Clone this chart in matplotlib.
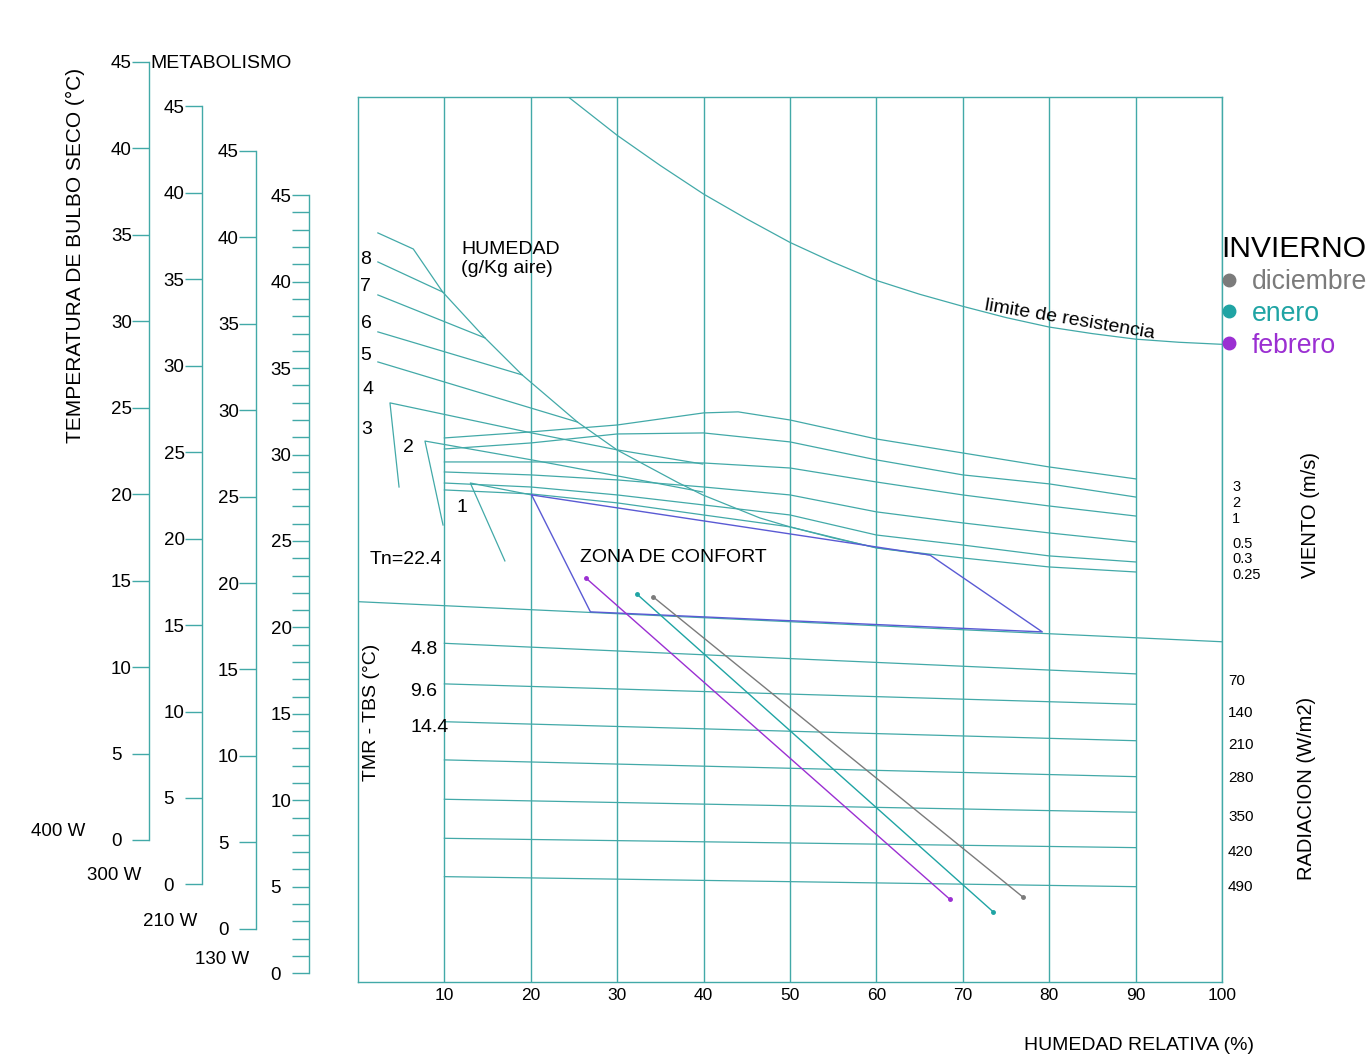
import matplotlib
matplotlib.use("Agg")
import matplotlib.pyplot as plt
from matplotlib.lines import Line2D
from matplotlib.ticker import MultipleLocator

plt.rcParams["font.family"] = ["Liberation Sans", "DejaVu Sans"]

# ---- data (x = humedad relativa %, y = temperatura °C) ----
rh_ticks = [10, 20, 30, 40, 50, 60, 70, 80, 90, 100]

limit_rh = [24.4, 30.0, 35.0, 40.0, 45.0, 50.0, 55.0, 60.0, 65.0, 70.0, 75.0, 80.0,
            85.0, 90.0, 95.0, 100.0]
limit_t = [50.7, 48.5, 46.75, 45.1, 43.66, 42.3, 41.15, 40.1, 39.3, 38.6, 37.95,
           37.4, 37.02, 36.7, 36.52, 36.4]

steep_rh = [2.3, 6.4, 9.8, 14.7, 19.0, 25.4, 30.0, 36.9, 39.9, 46.5, 50.0, 55.0, 60.1, 66.2]
steep_t = [42.85, 41.92, 39.43, 36.77, 34.63, 31.90, 30.28, 28.43, 27.68, 26.35, 25.83, 25.19, 24.61, 24.20]

h8_rh, h8_t = [2.3, 9.8], [41.17, 39.43]
h7_rh, h7_t = [2.3, 14.7], [39.26, 36.77]
h6_rh, h6_t = [2.3, 19.0], [37.12, 34.63]
h5_rh, h5_t = [2.3, 25.4], [35.38, 31.90]
h4_rh, h4_t = [4.75, 3.7, 20.1, 30.1, 39.9], [28.14, 33.01, 31.27, 30.28, 29.47]
h2_rh, h2_t = [9.84, 7.75, 20.1, 33.8, 39.9], [25.94, 30.80, 29.71, 28.43, 27.85]
h1_rh, h1_t = [17.0, 13.0, 20.1], [23.86, 28.37, 27.68]
hum_labels = ["8", "7", "6", "5", "4", "3", "2", "1"]

wind_labels = ["3", "2", "1", "0.5", "0.3", "0.25"]
wind_rh = [10, 20, 30, 40, 50, 60, 70, 80, 90]
w3_rh = [10, 20, 30, 40, 44, 50, 60, 70, 80, 90]
w3_t = [30.98, 31.33, 31.73, 32.43, 32.49, 32.02, 30.92, 30.11, 29.30, 28.61]
w2_t = [30.34, 30.69, 31.21, 31.27, 30.75, 29.71, 28.84, 28.32, 27.56]
w1_t = [29.59, 29.59, 29.59, 29.53, 29.24, 28.43, 27.68, 27.04, 26.46]
w05_t = [29.01, 28.84, 28.55, 28.14, 27.68, 26.70, 26.06, 25.48, 24.96]
w03_t = [28.37, 28.14, 27.68, 27.10, 26.52, 25.36, 24.78, 24.15, 23.80]
w025_t = [27.97, 27.74, 27.22, 26.52, 25.83, 24.61, 24.03, 23.51, 23.22]

comfort_rh = [20.1, 66.2, 79.2, 26.9, 20.1]
comfort_t = [27.68, 24.20, 19.75, 20.91, 27.68]

tn_rh, tn_t = [0, 100], [21.50, 19.18]

rad_labels = ["70", "140", "210", "280", "350", "420", "490"]
tmr_labels = ["4.8", "9.6", "14.4"]
rad_rh = [10, 90]
rad_t_left = [19.09, 16.74, 14.55, 12.34, 10.06, 7.80, 5.58]
rad_t_right = [17.32, 15.56, 13.45, 11.37, 9.31, 7.26, 5.00]

months = ["diciembre", "enero", "febrero"]
dic_rh, dic_t = [34.2, 77.0], [21.76, 4.38]
ene_rh, ene_t = [32.3, 73.5], [21.93, 3.55]
feb_rh, feb_t = [26.4, 68.5], [22.86, 4.27]

metab_labels = ["400 W", "300 W", "210 W", "130 W"]
scale_ticks = list(range(0, 46, 5))

# ---- styling ----
TEAL = "#42a9a8"
BLUE = "#5a5ad4"
C_DIC, C_ENE, C_FEB = "#7b7b7b", "#1fa4a4", "#9b2fd2"
W, H = 1370, 1054


def fx(px):
    return px / W


def fy(py):
    return 1 - py / H


fig = plt.figure(figsize=(W / 100, H / 100), dpi=100)

# main chart
ax = fig.add_axes([fx(358), fy(982), fx(1222) - fx(358), fy(97) - fy(982)])
ax.set_xlim(0, 100)
ax.set_ylim(-0.52, 50.72)
ax.set_xticks(rh_ticks)
ax.set_xticklabels([str(v) for v in rh_ticks])
ax.set_yticks([])
ax.tick_params(axis="x", length=0, pad=4, labelsize=12.5)
ax.grid(axis="x", color=TEAL, lw=1.0, zorder=0)
for sp in ax.spines.values():
    sp.set_color(TEAL)
    sp.set_linewidth(1.0)

lk = dict(color=TEAL, lw=0.9, zorder=2)
ax.plot(limit_rh, limit_t, **lk)
ax.plot(steep_rh, steep_t, **lk)
for r, t in [(h8_rh, h8_t), (h7_rh, h7_t), (h6_rh, h6_t), (h5_rh, h5_t),
             (h4_rh, h4_t), (h2_rh, h2_t), (h1_rh, h1_t)]:
    ax.plot(r, t, **lk)
ax.plot(w3_rh, w3_t, **lk)
for t in [w2_t, w1_t, w05_t, w03_t, w025_t]:
    ax.plot(wind_rh, t, **lk)
ax.plot(tn_rh, tn_t, **lk)
for tl, tr in zip(rad_t_left, rad_t_right):
    ax.plot(rad_rh, [tl, tr], **lk)

ax.plot(comfort_rh, comfort_t, color=BLUE, lw=1.0, zorder=3)

for r, t, c in [(dic_rh, dic_t, C_DIC), (ene_rh, ene_t, C_ENE), (feb_rh, feb_t, C_FEB)]:
    ax.plot(r, t, color=c, lw=1.0, marker="o", markersize=2.5, zorder=4)

# texts inside chart
fig.text(fx(461), fy(259), "HUMEDAD\n(g/Kg aire)", ha="left", va="center",
         fontsize=14, linespacing=1.2)
fig.text(fx(580), fy(558), "ZONA DE CONFORT", ha="left", va="center", fontsize=14)
fig.text(fx(370), fy(559), "Tn=22.4", ha="left", va="center", fontsize=14)
fig.text(fx(1070), fy(320), "limite de resistencia", ha="center", va="center",
         fontsize=14, rotation=-9.5)
fig.text(fx(372), fy(712), "TMR - TBS (°C)", ha="center", va="center",
         fontsize=14, rotation=90)
hum_pos = [(366, 260), (365, 287), (366, 324), (366, 356), (368, 390), (367, 430),
           (408, 448), (462, 508)]
for lab, (px, py) in zip(hum_labels, hum_pos):
    fig.text(fx(px), fy(py), lab, ha="center", va="center", fontsize=14)
for lab, py in zip(tmr_labels, [650, 691, 727]):
    fig.text(fx(410), fy(py), lab, ha="left", va="center", fontsize=14)

# right side labels
for lab, py in zip(wind_labels, [487, 503, 519, 544, 559, 575]):
    fig.text(fx(1232), fy(py), lab, ha="left", va="center", fontsize=10.5)
fig.text(fx(1310), fy(515), "VIENTO (m/s)", ha="center", va="center",
         fontsize=14.5, rotation=90)
for lab, py in zip(rad_labels, [681, 713, 745, 778, 817, 852, 887]):
    fig.text(fx(1228), fy(py), lab, ha="left", va="center", fontsize=11)
fig.text(fx(1307), fy(788), "RADIACION (W/m2)", ha="center", va="center",
         fontsize=14.5, rotation=90)
fig.text(fx(1139), fy(1045), "HUMEDAD RELATIVA (%)", ha="center", va="center",
         fontsize=14)

# legend
handles = [Line2D([], [], marker="o", ls="none", color=c, markersize=9)
           for c in (C_DIC, C_ENE, C_FEB)]
leg = fig.legend(handles, months, loc="upper left",
                 bbox_to_anchor=(fx(1221), fy(235)), frameon=False,
                 title="INVIERNO", title_fontsize=21.6, fontsize=19.2,
                 handlelength=0.6, handletextpad=0.55, labelspacing=0.22,
                 borderpad=0, borderaxespad=0, alignment="left")
for txt, c in zip(leg.get_texts(), (C_DIC, C_ENE, C_FEB)):
    txt.set_color(c)

# metabolism temperature scales on the left
scale_x = [149, 201.7, 256, 308.7]
scale_zero = [840, 884.4, 928.8, 973.2]
scale_top = [62, 106.4, 150.8, 195.2]
watt_pos = [(58, 831), (114, 876), (170, 922), (222, 960)]
for k in range(4):
    s = fig.add_axes([fx(scale_x[k]), fy(scale_zero[k]), 0.0004,
                      fy(scale_top[k]) - fy(scale_zero[k])])
    s.set_ylim(0, 45)
    s.patch.set_visible(False)
    for name in ("right", "top", "bottom"):
        s.spines[name].set_visible(False)
    s.spines["left"].set_color(TEAL)
    s.spines["left"].set_linewidth(1.0)
    s.set_xticks([])
    s.set_yticks(scale_ticks)
    s.tick_params(axis="y", direction="out", length=12.2, width=1.0, color=TEAL,
                  pad=15.2, labelsize=13.5)
    for lab in s.get_yticklabels():
        lab.set_horizontalalignment("left")
    if k == 3:
        s.yaxis.set_minor_locator(MultipleLocator(1))
        s.tick_params(axis="y", which="minor", direction="out", length=12.2,
                      width=1.0, color=TEAL)
    fig.text(fx(watt_pos[k][0]), fy(watt_pos[k][1]), metab_labels[k],
             ha="center", va="center", fontsize=13.5)

fig.text(fx(150), fy(64), "METABOLISMO", ha="left", va="center", fontsize=14)
fig.text(fx(75), fy(255), "TEMPERATURA DE BULBO SECO (°C)", ha="center",
         va="center", fontsize=15, rotation=90)

fig.savefig("out.png", dpi=100)
plt.close(fig)
